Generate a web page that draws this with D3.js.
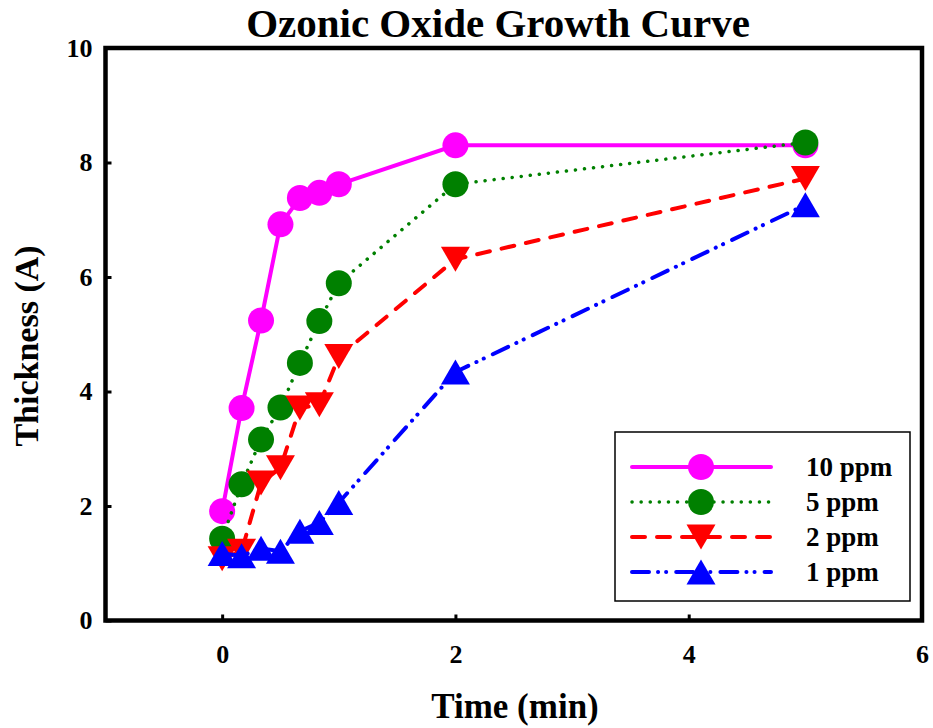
<!DOCTYPE html>
<html lang="en">
<head>
  <meta charset="utf-8">
  <title>Ozonic Oxide Growth Curve</title>
  <script src="https://d3js.org/d3.v7.min.js"></script>
  <style>
    body { margin: 0; background: #fff; }
    text { font-family: "Liberation Serif", "Times New Roman", serif; font-weight: bold; }
  </style>
</head>
<body>
<div id="my_dataviz"></div>
<script>
// time points (min)
const times = [0, 1/6, 1/3, 0.5, 2/3, 5/6, 1, 2, 5];

const ppm10 = [1.91, 3.71, 5.24, 6.92, 7.38, 7.47, 7.62, 8.30, 8.30];
const ppm5  = [1.43, 2.38, 3.16, 3.72, 4.50, 5.23, 5.89, 7.62, 8.35];
const ppm2  = [1.08, 1.21, 2.40, 2.67, 3.71, 3.77, 4.61, 6.31, 7.72];
const ppm1  = [1.17, 1.13, 1.26, 1.21, 1.56, 1.71, 2.06, 4.34, 7.26];

const seriesNames = ["10 ppm", "5 ppm", "2 ppm", "1 ppm"];
const xTicks = [0, 2, 4, 6];
const yTicks = [0, 2, 4, 6, 8, 10];

// styles for each series
const styles = [
  {color: "#ff00ff", dash: null, width: 4, marker: "circle"},
  {color: "#008000", dash: "0.1,9", width: 3.5, marker: "circle"},
  {color: "#ff0000", dash: "13,12", width: 4, marker: "down"},
  {color: "#0000ff", dash: "17,9,0.1,8,0.1,10", width: 4, marker: "up"}
];
const allValues = [ppm10, ppm5, ppm2, ppm1];

const W = 933, H = 728;
const margin = {top: 48, right: 11, bottom: 107.5, left: 105.5};
const width = W - margin.left - margin.right,
      height = H - margin.top - margin.bottom;

const svg = d3.select("#my_dataviz")
  .append("svg")
    .attr("width", W)
    .attr("height", H);

const g = svg.append("g")
  .attr("transform", `translate(${margin.left},${margin.top})`);

const x = d3.scaleLinear().domain([-1, 6]).range([0, width]);
const y = d3.scaleLinear().domain([0, 10]).range([height, 0]);

// marker path generator
function markerPath(type) {
  if (type === "circle") return d3.symbol().type(d3.symbolCircle).size(Math.PI * 13 * 13)();
  const w = 14.5, h = 12.5;
  if (type === "down") return `M${-w},${-h}L${w},${-h}L0,${h}Z`;
  return `M${-w},${h}L${w},${h}L0,${-h}Z`;
}

// series
const line = d3.line().x(d => x(d[0])).y(d => y(d[1]));
allValues.forEach((vals, i) => {
  const s = styles[i];
  const pts = times.map((t, j) => [t, vals[j]]);
  g.append("path")
    .datum(pts)
    .attr("d", line)
    .attr("fill", "none")
    .attr("stroke", s.color)
    .attr("stroke-width", s.width)
    .attr("stroke-linecap", "round")
    .attr("stroke-dasharray", s.dash);
  g.selectAll(null)
    .data(pts)
    .join("path")
      .attr("d", markerPath(s.marker))
      .attr("transform", d => `translate(${x(d[0])},${y(d[1])})`)
      .attr("fill", s.color);
});

// frame
g.append("rect")
  .attr("x", 0).attr("y", 0)
  .attr("width", width).attr("height", height)
  .attr("fill", "none")
  .attr("stroke", "#000")
  .attr("stroke-width", 4.5);

// axes with inward ticks
const xAxis = g.append("g")
  .attr("transform", `translate(0,${height})`)
  .call(d3.axisBottom(x).tickValues(xTicks).tickSize(-6).tickPadding(24).tickFormat(d3.format("d")));
const yAxis = g.append("g")
  .call(d3.axisLeft(y).tickValues(yTicks).tickSize(-6).tickPadding(13).tickFormat(d3.format("d")));
[xAxis, yAxis].forEach(a => {
  a.select(".domain").remove();
  a.selectAll(".tick line").attr("stroke", "#000").attr("stroke-width", 3);
  a.selectAll(".tick text")
    .attr("font-size", 26)
    .attr("font-family", "Liberation Serif, serif")
    .attr("font-weight", "bold")
    .attr("fill", "#000");
});

// title and axis labels
svg.append("text")
  .attr("x", 498).attr("y", 37)
  .attr("text-anchor", "middle")
  .attr("font-size", 41)
  .text("Ozonic Oxide Growth Curve");

svg.append("text")
  .attr("x", 515).attr("y", 718)
  .attr("text-anchor", "middle")
  .attr("font-size", 35)
  .text("Time (min)");

svg.append("text")
  .attr("transform", "translate(38,346) rotate(-90)")
  .attr("text-anchor", "middle")
  .attr("font-size", 34)
  .text("Thickness (A)");

// legend
const legend = svg.append("g");
legend.append("rect")
  .attr("x", 615).attr("y", 432)
  .attr("width", 295).attr("height", 169)
  .attr("fill", "#fff")
  .attr("stroke", "#000")
  .attr("stroke-width", 1.5);

seriesNames.forEach((name, i) => {
  const s = styles[i];
  const ry = 467 + i * 35;
  legend.append("line")
    .attr("x1", 632).attr("x2", 771)
    .attr("y1", ry).attr("y2", ry)
    .attr("stroke", s.color)
    .attr("stroke-width", s.width)
    .attr("stroke-linecap", "round")
    .attr("stroke-dasharray", s.dash);
  legend.append("path")
    .attr("d", markerPath(s.marker))
    .attr("transform", `translate(701,${ry})`)
    .attr("fill", s.color);
  legend.append("text")
    .attr("x", 806).attr("y", ry + 9)
    .attr("font-size", 27)
    .text(name);
});
</script>
</body>
</html>
